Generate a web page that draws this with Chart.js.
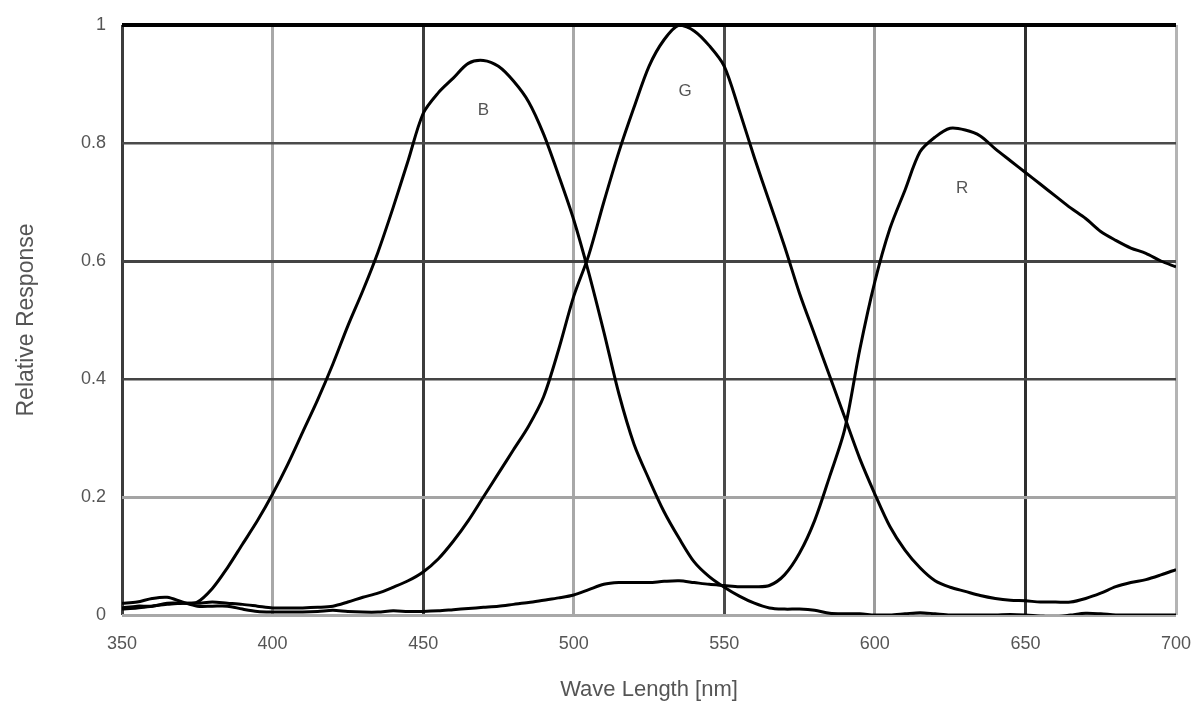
<!DOCTYPE html>
<html><head><meta charset="utf-8">
<script src="https://cdn.jsdelivr.net/npm/chart.js@4.4.0/dist/chart.umd.min.js"></script>
<style>html,body{margin:0;padding:0;background:#fff;overflow:hidden}
#wrap{width:1199px;height:711px;position:relative}</style>
</head><body>
<div id="wrap"><canvas id="c"></canvas></div>
<script>
const wavelengths = [350,355,360,365,370,375,380,385,390,395,400,405,410,415,420,425,430,435,440,445,450,455,460,465,470,475,480,485,490,495,500,505,510,515,520,525,530,535,540,545,550,555,560,565,570,575,580,585,590,595,600,605,610,615,620,625,630,635,640,645,650,655,660,665,670,675,680,685,690,695,700];
const blueResponse = [0.01,0.012,0.015,0.018,0.02,0.022,0.045,0.08,0.12,0.16,0.205,0.255,0.31,0.365,0.425,0.49,0.55,0.615,0.69,0.77,0.85,0.885,0.91,0.935,0.94,0.93,0.905,0.87,0.815,0.745,0.67,0.58,0.48,0.375,0.29,0.23,0.175,0.13,0.09,0.065,0.047,0.032,0.02,0.012,0.01,0.01,0.008,0.003,0.002,0.002,0,0,0.002,0.004,0.002,0,0,0,0,0.001,0,-0.002,-0.003,0,0.003,0.002,0,0,0,0,0];
const greenResponse = [0.012,0.015,0.015,0.02,0.02,0.02,0.022,0.02,0.018,0.015,0.012,0.012,0.012,0.013,0.015,0.022,0.03,0.037,0.047,0.058,0.073,0.095,0.125,0.16,0.2,0.24,0.28,0.32,0.37,0.45,0.54,0.61,0.7,0.785,0.86,0.93,0.975,1.0,0.99,0.965,0.93,0.855,0.775,0.7,0.625,0.545,0.475,0.405,0.335,0.265,0.205,0.15,0.11,0.08,0.058,0.047,0.04,0.033,0.028,0.025,0.024,0.022,0.022,0.022,0.028,0.037,0.048,0.055,0.06,0.068,0.077];
const redResponse = [0.02,0.022,0.028,0.03,0.022,0.015,0.015,0.015,0.01,0.006,0.005,0.005,0.005,0.006,0.008,0.006,0.005,0.005,0.007,0.006,0.006,0.007,0.009,0.011,0.013,0.015,0.018,0.021,0.025,0.029,0.034,0.043,0.052,0.055,0.055,0.055,0.057,0.058,0.055,0.052,0.05,0.048,0.048,0.05,0.068,0.105,0.16,0.235,0.315,0.45,0.565,0.655,0.72,0.785,0.81,0.825,0.822,0.812,0.79,0.77,0.75,0.73,0.71,0.69,0.672,0.65,0.635,0.622,0.613,0.6,0.59];
const xTickValues = [350,400,450,500,550,600,650,700];
const yTickValues = [0,0.2,0.4,0.6,0.8,1];
const curveNames = ['B','G','R'];
const curveLabelX = [470,537,629];
const curveLabelY = [0.856,0.888,0.724];

const toPoints = (arr) => wavelengths.map((w,i)=>({x:w,y:arr[i]}));
const xGridColors = {350:'#3c3c3c',400:'#a8a8a8',450:'#3c3c3c',500:'#a8a8a8',550:'#4a4a4a',600:'#9c9c9c',650:'#2e2e2e',700:'#b4b4b4'};
const yGridColors = {0:'#a8a8a8',0.2:'#a4a4a4',0.4:'#444444',0.6:'#444444',0.8:'#4a4a4a',1:'#000000'};
const yGridWidths = {0:3,0.2:3,0.4:2.5,0.6:3,0.8:2.5,1:4};
const FONT = '"Liberation Sans", Arial, sans-serif';

const labelPlugin = {
  id:'curveLabels',
  afterDatasetsDraw(chart){
    const {ctx, scales:{x,y}} = chart;
    ctx.save();
    ctx.font = '17px ' + FONT;
    ctx.fillStyle = '#555';
    ctx.textAlign = 'center';
    ctx.textBaseline = 'middle';
    curveNames.forEach((n,i)=>ctx.fillText(n, x.getPixelForValue(curveLabelX[i]), y.getPixelForValue(curveLabelY[i])));
    ctx.restore();
  }
};

const ds = (label, arr) => ({label, data: toPoints(arr), borderColor:'#000', borderWidth:3, pointRadius:0, fill:false, tension:0.3});

new Chart(document.getElementById('c'), {
  type:'line',
  data:{datasets:[ds('B',blueResponse), ds('G',greenResponse), ds('R',redResponse)]},
  options:{
    responsive:true, maintainAspectRatio:false, animation:false,
    layout:{padding:{top:25,right:23,bottom:0,left:0}},
    plugins:{legend:{display:false}, tooltip:{enabled:false}},
    scales:{
      x:{type:'linear', min:350, max:700,
        afterBuildTicks:(s)=>{s.ticks = xTickValues.map(v=>({value:v}));},
        afterFit:(s)=>{s.height = 96; s.paddingRight = 0; s.paddingLeft = 0;},
        border:{display:false},
        grid:{drawTicks:false, color:(c)=>xGridColors[c.tick.value]||'#aaa', lineWidth:3},
        ticks:{padding:18, color:'#555', font:{family:FONT, size:18}, maxRotation:0, callback:(v)=>String(v)},
        title:{display:true, text:'Wave Length [nm]', color:'#555', font:{family:FONT, size:22}, padding:{top:0,bottom:8}}
      },
      y:{type:'linear', min:0, max:1,
        afterBuildTicks:(s)=>{s.ticks = yTickValues.map(v=>({value:v}));},
        afterFit:(s)=>{s.width = 122; s.paddingTop = 0; s.paddingBottom = 0;},
        border:{display:false},
        grid:{drawTicks:false, color:(c)=>yGridColors[c.tick.value]||'#aaa', lineWidth:(c)=>yGridWidths[c.tick.value]||2.5},
        ticks:{padding:16, color:'#555', font:{family:FONT, size:18}, callback:(v)=>String(v)},
        title:{display:true, text:'Relative Response', color:'#555', font:{family:FONT, size:23}, padding:{top:13,bottom:0}}
      }
    }
  },
  plugins:[labelPlugin]
});
</script>
</body></html>
